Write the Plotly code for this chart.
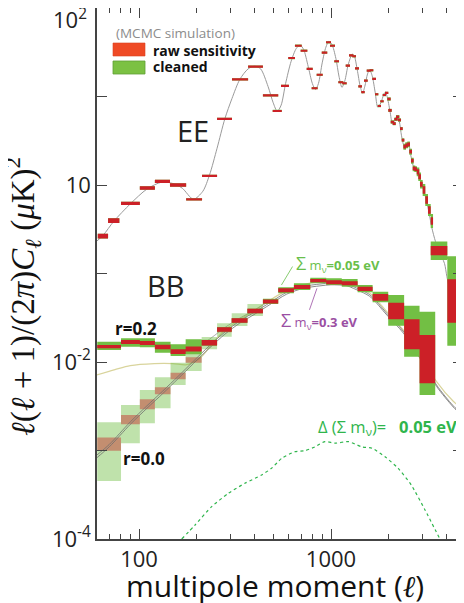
import math
import plotly.graph_objects as go

# ------------------------------------------------------------------ data
# EE band powers: multipole bin edges, centre value, half-height factors
ee_l_lo = [61, 69, 80.6, 101, 121, 145, 176, 213, 255, 305, 370, 442, 497, 549, 599, 649, 695, 747, 793, 842,
           895, 942, 988, 1040, 1092, 1145, 1193, 1241, 1291, 1334, 1388, 1438, 1486, 1535, 1591, 1641, 1695, 1751,
           1806, 1859, 1911, 1965, 1988, 2046, 2096, 2137, 2180, 2234, 2288, 2335, 2381, 2438, 2497, 2557, 2610,
           2664, 2716, 2795, 2849, 2907, 3003, 3098, 3200, 3306, 3306, 4035]
ee_l_hi = [69, 79, 101, 121, 145, 176, 213, 255, 305, 370, 442, 531, 554, 604, 649, 704, 753, 803, 852, 905,
           956, 1000, 1049, 1101, 1159, 1207, 1256, 1307, 1350, 1399, 1450, 1498, 1553, 1610, 1661, 1715, 1764, 1821,
           1881, 1934, 1988, 2046, 2071, 2129, 2173, 2226, 2269, 2316, 2363, 2409, 2459, 2518, 2578, 2642, 2696,
           2749, 2804, 2883, 2942, 3003, 3098, 3200, 3306, 3400, 4035, 4852]
ee_val = [0.265, 0.396, 0.62, 0.925, 1.10, 1.00, 0.69, 1.27, 5.6, 15.6, 21.7, 10.3, 6.86, 13.2, 27.2, 37.5, 32.9,
          20.5, 12.4, 17.6, 31.3, 41.0, 37.5, 25.0, 14.5, 14.1, 22.3, 29.2, 28.5, 20.8, 13.0, 11.2, 15.1, 19.6, 19.8,
          15.8, 10.6, 7.81, 8.83, 10.4, 11.0, 9.37, 6.98, 5.15, 4.93, 5.53, 5.91, 5.43, 4.33, 3.22, 2.71, 2.81, 2.88,
          2.38, 1.88, 1.54, 1.51, 1.41, 1.24, 1.02, 0.878, 0.677, 0.522, 0.392, 0.181, 0.0489]
ee_raw = [1.063, 1.063, 1.044, 1.044, 1.044, 1.044, 1.03, 1.03, 1.03, 1.03, 1.03] + [1.028] * 30 + \
         [1.035] * 9 + [1.05] * 7 + [1.07] * 3 + [1.1, 1.1, 1.1, 1.1, 1.129, 1.758]
ee_cln = [1.063, 1.063, 1.044, 1.044, 1.044, 1.044, 1.03, 1.03, 1.03, 1.03, 1.03] + [1.03] * 30 + \
         [1.045] * 9 + [1.08] * 7 + [1.12] * 3 + [1.17, 1.17, 1.17, 1.2, 1.27, 3.2]

# BB band powers (shared bin edges)
bb_edges = [60.6, 80.6, 101, 121, 146, 175, 212, 255, 304, 367, 442, 531, 641, 780, 944, 1138, 1376, 1647,
            1986, 2404, 2892, 3490]
# r = 0.2
bb02_val = [0.0149, 0.0168, 0.0164, 0.0148, 0.0131, 0.0140, 0.0165, 0.0233, 0.0294, 0.0377, 0.0484, 0.0646,
            0.0703, 0.083, 0.0796, 0.0778, 0.067, 0.0538, 0.0377, 0.0206, 0.0108]
bb02_raw = [1.044, 1.053, 1.053, 1.059, 1.062, 1.067, 1.076, 1.062, 1.059, 1.059, 1.053, 1.053, 1.053, 1.045,
            1.053, 1.053, 1.059, 1.09, 1.241, 1.477, 1.875]
bb02_cln_lo = [0.01367, 0.0149, 0.01466, 0.01274, 0.0117, 0.01222, 0.0153, 0.0219, 0.0278, 0.0356, 0.0452,
               0.0597, 0.0651, 0.0775, 0.0741, 0.071, 0.0613, 0.0473, 0.0257, 0.01148, 0.00424]
bb02_cln_hi = [0.01695, 0.01853, 0.01853, 0.01695, 0.01585, 0.01805, 0.0178, 0.0248, 0.0312, 0.040, 0.0518,
               0.0698, 0.0775, 0.0897, 0.0883, 0.0867, 0.0741, 0.0623, 0.0572, 0.0433, 0.037]
# r = 0.0 (first ten bins)
bb00_val = [0.00118, 0.00223, 0.00333, 0.00473, 0.00695, 0.01054, 0.01648, 0.0230, 0.02944, 0.0377]
bb00_raw = [1.19, 1.129, 1.139, 1.095, 1.09, 1.073, 1.076, 1.062, 1.059, 1.059]
bb00_cln_lo = [0.000452, 0.00121, 0.00203, 0.0030, 0.0055, 0.0079, 0.01392, 0.0193, 0.02551, 0.0331]
bb00_cln_hi = [0.00208, 0.00327, 0.00483, 0.00671, 0.00982, 0.01288, 0.01914, 0.02737, 0.0355, 0.0452]

# theory curves
ee_th_l = [60, 65, 74, 90, 110, 132, 150, 168, 192, 215, 233, 255, 280, 305, 335, 370, 400, 430, 470, 500, 525,
           550, 580, 620, 660, 690, 720, 760, 800, 830, 860, 900, 940, 975, 1010, 1060, 1100, 1140, 1180, 1230,
           1290, 1320, 1370, 1420, 1460, 1500, 1550, 1590, 1640, 1700, 1752, 1820, 1880, 1920, 1960, 2030, 2090,
           2150, 2210, 2270, 2330, 2400, 2470, 2540, 2600, 2680, 2760, 2840, 2950, 3050, 3150, 3250, 3350, 3500,
           3650, 3900, 4015, 4400, 4843, 4950]
ee_th_d = [0.23, 0.27, 0.39, 0.61, 0.9, 1.08, 1.04, 0.92, 0.69, 0.85, 1.3, 2.6, 5.6, 9.5, 15.6, 20.5, 22, 20.5,
           13, 8.5, 6.8, 8, 14, 25, 35, 38, 34, 22, 14, 12, 14, 24, 36, 42, 39, 27, 17, 12.7, 15, 23, 30, 29, 20,
           13, 10.9, 13, 18, 20, 17, 11, 7.6, 8.5, 10.5, 11.2, 10, 6.8, 4.9, 5.4, 6.0, 5.2, 3.6, 2.8, 2.75, 2.85,
           2.2, 1.65, 1.48, 1.35, 1.1, 0.85, 0.65, 0.47, 0.33, 0.23, 0.18, 0.13, 0.092, 0.036, 0.0137, 0.0115]

bb_th_l = [60, 70, 90, 110, 133, 160, 192, 233, 280, 334, 403, 480, 588, 719, 876, 1000, 1207, 1307, 1593,
           1953, 2378, 2905, 3547, 4333, 4900]
bb_lens005_d = [0.00088, 0.00117, 0.0021, 0.0032, 0.0047, 0.0069, 0.0102, 0.0153, 0.0218, 0.029, 0.037, 0.0468,
                0.0614, 0.0715, 0.076, 0.078, 0.076, 0.071, 0.0575, 0.0355, 0.0223, 0.0115, 0.0055, 0.0032, 0.0025]
bb_lens03_d = [0.00082, 0.0011, 0.00197, 0.003, 0.0044, 0.0065, 0.0096, 0.0144, 0.0206, 0.0274, 0.035, 0.0445,
               0.0585, 0.068, 0.0725, 0.0745, 0.0728, 0.068, 0.055, 0.034, 0.0213, 0.011, 0.0053, 0.0031, 0.0024]

bb_alt_l = [60, 75, 90, 120, 150, 175, 192, 212, 240, 280, 334, 403, 480, 588, 719, 876, 1000, 1207, 1307, 1593,
            1953, 2378, 2905, 3547, 4333, 4900]
bb_alt_d = [0.0071, 0.0082, 0.0091, 0.0096, 0.0096, 0.0093, 0.0099, 0.0115, 0.016, 0.023, 0.030, 0.039, 0.050,
            0.064, 0.075, 0.081, 0.082, 0.079, 0.074, 0.060, 0.037, 0.023, 0.0122, 0.006, 0.0036, 0.0029]

bb_r02_l = [60, 70, 80, 95, 115, 135, 160, 185, 212, 240, 280, 334, 403, 480]
bb_r02_d = [0.0146, 0.0152, 0.0158, 0.016, 0.0157, 0.015, 0.0142, 0.0142, 0.0158, 0.019, 0.0245, 0.0312, 0.039,
            0.049]

dmnu_l = [167, 196, 239, 292, 356, 435, 490, 554, 650, 733, 825, 930, 1049, 1235, 1444, 1636, 1911, 2238, 2620,
          3088, 3690]
dmnu_d = [1.0e-4, 1.44e-4, 2.32e-4, 3.28e-4, 4.26e-4, 5.28e-4, 6.29e-4, 8.17e-4, 9.7e-4, 9.95e-4, 1.10e-3,
          1.26e-3, 1.21e-3, 1.26e-3, 1.10e-3, 1.06e-3, 8.5e-4, 6.29e-4, 4.07e-4, 2.13e-4, 1.0e-4]

# pointer tips for the neutrino-mass labels (multipole, value)
ptr_005 = (552, 0.0741)
ptr_03 = (845, 0.068)

# axes
x_major = [100, 1000]
x_major_text = ["100", "1000"]
x_minor = [60, 70, 80, 90, 200, 300, 400, 500, 600, 700, 800, 900, 2000, 3000, 4000]
y_ticks = [1e-4, 1e-3, 1e-2, 1e-1, 1, 10, 100]
y_tick_text = ["10<sup>-4</sup>", "", "10<sup>-2</sup>", "", "10", "", ""]
y_top_label = "10<sup>2</sup>"

# ------------------------------------------------------------------ style
SANS = "'Open Sans', Lato, sans-serif"
SERIF = "'Liberation Serif', 'DejaVu Serif', serif"
RED = "#cc2027"
GREEN = "#72bf44"
# plot area in page pixels (the page body adds an 8px offset to the figure)
L0, L1, T0, T1 = 97, 463, 8, 539
OFF = 8
FW, FH = 464 - OFF, 603 - OFF

fig = go.Figure()


def add_curve(l, d, color, width, dash=None, smooth=0.8):
    fig.add_trace(go.Scatter(x=l, y=d, mode="lines", hoverinfo="skip", showlegend=False,
                             line=dict(color=color, width=width, shape="spline", smoothing=smooth, dash=dash)))


def add_boxes(lo, hi, bot, top, color):
    xs, ys = [], []
    for a, b, c, d in zip(lo, hi, bot, top):
        xs += [a, b, b, a, a, None]
        ys += [c, c, d, d, c, None]
    fig.add_trace(go.Scatter(x=xs, y=ys, mode="none", fill="toself", fillcolor=color,
                             hoverinfo="skip", showlegend=False))


# theory curves (beneath the boxes)
add_curve(ee_th_l, ee_th_d, "#9a9a9a", 1.0)
add_curve(bb_alt_l, bb_alt_d, "#d9d49c", 1.2)
add_curve(bb_r02_l, bb_r02_d, "#999999", 0.8)

# r = 0.0 translucent boxes
bb_lo = bb_edges[:-1]
bb_hi = bb_edges[1:]
add_boxes(bb_lo[:10], bb_hi[:10], bb00_cln_lo, bb00_cln_hi, "rgba(114,191,68,0.45)")
add_boxes(bb_lo[:10], bb_hi[:10], [v / f for v, f in zip(bb00_val, bb00_raw)],
          [v * f for v, f in zip(bb00_val, bb00_raw)], "rgba(200,40,40,0.45)")

add_curve(bb_th_l, bb_lens005_d, "#6f6f6f", 0.8)
add_curve(bb_th_l, bb_lens03_d, "#6f6f6f", 0.8)

# r = 0.2 boxes
add_boxes(bb_lo, bb_hi, bb02_cln_lo, bb02_cln_hi, GREEN)
add_boxes(bb_lo, bb_hi, [v / f for v, f in zip(bb02_val, bb02_raw)],
          [v * f for v, f in zip(bb02_val, bb02_raw)], RED)

# EE boxes
add_boxes(ee_l_lo, ee_l_hi, [v / f for v, f in zip(ee_val, ee_cln)], [v * f for v, f in zip(ee_val, ee_cln)], GREEN)
add_boxes(ee_l_lo, ee_l_hi, [v / f for v, f in zip(ee_val, ee_raw)], [v * f for v, f in zip(ee_val, ee_raw)], RED)

# Delta(sum m_nu) dotted curve
add_curve(dmnu_l, dmnu_d, "#2fb54c", 1.2, dash="dot", smooth=0.6)


def px(xp):
    return (xp - L0) / (L1 - L0)


def py(yp):
    return (T1 - yp) / (T1 - T0)


def ann(text, x, y, size, color="#222", xanchor="center", family=SANS, angle=0):
    fig.add_annotation(x=px(x), y=py(y), xref="paper", yref="paper", text=text, showarrow=False,
                       xanchor=xanchor, yanchor="middle", textangle=angle,
                       font=dict(size=size, color=color, family=family))


# legend
fig.add_shape(type="rect", xref="paper", yref="paper", x0=px(113), x1=px(145), y0=py(56), y1=py(43),
              fillcolor="#ef4a25", line=dict(color="#d9401f", width=0.6))
fig.add_shape(type="rect", xref="paper", yref="paper", x0=px(113), x1=px(145), y0=py(74), y1=py(61),
              fillcolor="#7bc143", line=dict(color="#5f9e35", width=0.8))
ann("(MCMC simulation)", 114, 33, 13.5, "#8c8c8c", "left")
ann("<b>raw sensitivity</b>", 151, 50, 14, "#111", "left")
ann("<b>cleaned</b>", 151, 66, 14, "#111", "left")

ann("EE", 193, 131, 29)
ann("BB", 165, 285, 29)
ann("<b>r=0.2</b>", 136, 328, 17, "#111")
ann("<b>r=0.0</b>", 144, 458, 17, "#111")

ann("<span style='font-size:18px'>Σ</span> m<sub>ν</sub><b>=0.05 eV</b>", 294, 263, 13, "#6abf4b", "left")
ann("<span style='font-size:18px'>Σ</span> m<sub>ν</sub><b>=0.3 eV</b>", 279, 320, 13, "#9b4fa3", "left")
ann("Δ (Σ m<sub>ν</sub>)=\u00a0\u00a0 <b>0.05 eV</b>", 316, 427, 16.5, "#2fb54c", "left")

fig.add_annotation(x=math.log10(ptr_005[0]), y=math.log10(ptr_005[1]), xref="x", yref="y", text="",
                   showarrow=True, arrowhead=0, arrowwidth=0.8, arrowcolor="#6abf4b", ax=12, ay=-20, standoff=0)
fig.add_annotation(x=math.log10(ptr_03[0]), y=math.log10(ptr_03[1]), xref="x", yref="y", text="",
                   showarrow=True, arrowhead=0, arrowwidth=0.8, arrowcolor="#9b4fa3", ax=-8, ay=23, standoff=0)

# top y tick label (sits just below the top tick in the reference)
ann(y_top_label, 89, 19, 22, "#222", "right")

# axis titles
ann("<i>ℓ</i>(<i>ℓ</i> + 1)/(2<i>π</i>)<i>C<sub>ℓ</sub></i> (<i>μ</i>K)<sup>2</sup>", 22, 297, 33, "#111",
    family=SERIF, angle=-90)
ann("multipole moment (<span style=\"font-family:'Liberation Serif'\"><i>ℓ</i></span>)", 275, 585, 30, "#111")

axis_common = dict(showgrid=False, zeroline=False, showline=True, linecolor="#444", linewidth=1.5,
                   mirror="ticks", ticks="inside", ticklen=10, tickwidth=1.2, tickcolor="#444",
                   automargin=False, tickfont=dict(size=22, family=SANS, color="#222"))

fig.update_layout(
    width=FW, height=FH,
    margin=dict(l=L0 - OFF, r=FW - (L1 - OFF), t=T0 - OFF, b=FH - (T1 - OFF), autoexpand=False),
    paper_bgcolor="white", plot_bgcolor="white", showlegend=False,
    font=dict(family=SANS, color="#222"),
    xaxis=dict(type="log", range=[math.log10(60.43), 3.6875], tickmode="array", tickvals=x_major,
               ticktext=x_major_text,
               minor=dict(ticks="inside", ticklen=5, tickwidth=1, tickcolor="#444", tickmode="array",
                          tickvals=x_minor, showgrid=False),
               **axis_common),
    yaxis=dict(type="log", range=[-4, 2], tickmode="array", tickvals=y_ticks, ticktext=y_tick_text,
               **axis_common),
)

fig.write_html("out.html")
